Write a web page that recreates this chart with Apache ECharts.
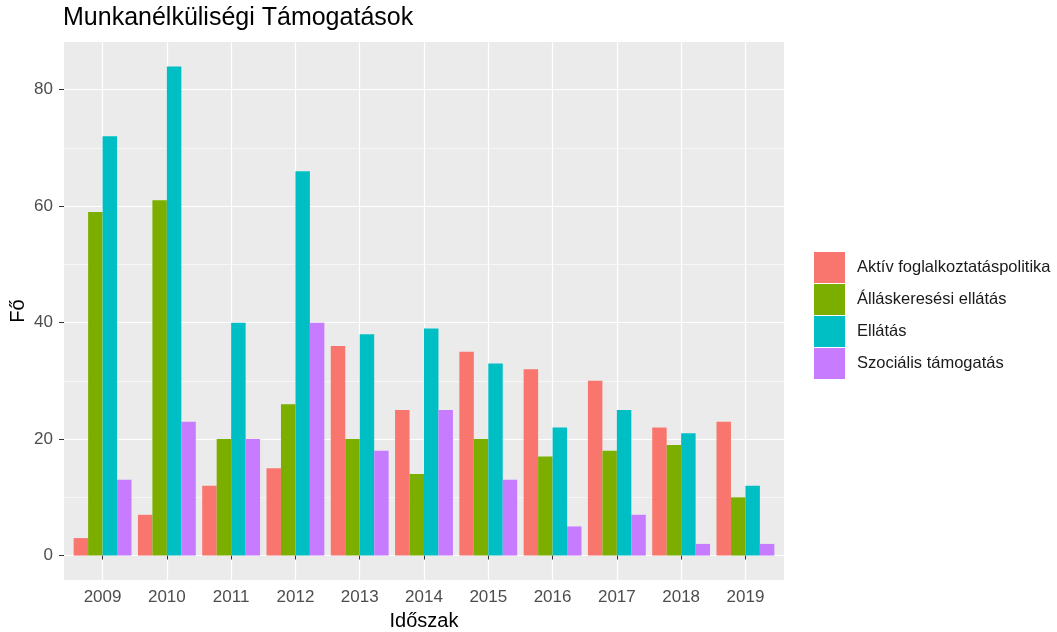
<!DOCTYPE html>
<html lang="hu">
<head>
    <meta charset="UTF-8">
    <title>Munkanélküliségi Támogatások</title>
    <script src="https://cdn.jsdelivr.net/npm/echarts@6/dist/echarts.min.js"></script>
    <style>
        html, body { margin: 0; padding: 0; background: #fff; }
        #main { width: 1057px; height: 632px; }
    </style>
</head>
<body>
<div id="main"></div>
<script>
    // évek
    var years = [2009, 2010, 2011, 2012, 2013, 2014, 2015, 2016, 2017, 2018, 2019];
    // kategóriák
    var categories = ['Aktív foglalkoztatáspolitika', 'Álláskeresési ellátás', 'Ellátás', 'Szociális támogatás'];
    var aktiv = [3, 7, 12, 15, 36, 25, 35, 32, 30, 22, 23];
    var allaskeresesi = [59, 61, 20, 26, 20, 14, 20, 17, 18, 19, 10];
    var ellatas = [72, 84, 40, 66, 38, 39, 33, 22, 25, 21, 12];
    var szocialis = [13, 23, 20, 40, 18, 25, 13, 5, 7, 2, 2];
    var yTicks = [0, 20, 40, 60, 80];
    var yMinor = [10, 30, 50, 70];

    var colors = ['#F8766D', '#7CAE00', '#00BFC4', '#C77CFF'];
    var values = [aktiv, allaskeresesi, ellatas, szocialis];

    var font = 'Liberation Sans, Arial, sans-serif';

    var series = categories.map(function (name, i) {
        return {
            name: name,
            type: 'bar',
            barGap: '0%',
            barCategoryGap: '10%',
            itemStyle: {color: colors[i]},
            data: years.map(function (y, j) {
                return [y, values[i][j]];
            })
        };
    });

    var myChart = echarts.init(document.getElementById('main'));
    var option = {
        animation: false,
        title: {
            text: 'Munkanélküliségi Támogatások',
            left: 58,
            top: 1,
            textStyle: {fontFamily: font, fontSize: 25, fontWeight: 'normal', color: '#000'}
        },
        legend: {
            orient: 'vertical',
            left: 814,
            top: 252,
            padding: 0,
            itemWidth: 31,
            itemHeight: 31,
            itemGap: 1,
            icon: 'rect',
            data: categories,
            textStyle: {fontFamily: font, fontSize: 16.5, color: '#1a1a1a', padding: [0, 0, 0, 7]}
        },
        grid: {
            left: 64,
            right: 273,
            top: 42,
            bottom: 52,
            outerBoundsMode: 'none',
            containLabel: false,
            show: true,
            backgroundColor: '#EBEBEB',
            borderWidth: 0
        },
        xAxis: {
            type: 'value',
            min: 2008.4,
            max: 2019.6,
            name: 'Időszak',
            nameLocation: 'middle',
            nameGap: 31,
            nameTextStyle: {fontFamily: font, fontSize: 20, color: '#000'},
            axisLine: {show: false},
            axisTick: {show: true, length: 4, customValues: years, lineStyle: {color: '#333'}},
            axisLabel: {
                customValues: years,
                margin: 9,
                fontFamily: font,
                fontSize: 17,
                color: '#4D4D4D',
                formatter: function (v) { return String(v); }
            },
            splitLine: {show: true, lineStyle: {color: '#fff', width: 1.2}}
        },
        yAxis: [{
            type: 'value',
            min: -4.2,
            max: 88.2,
            name: 'Fő',
            nameLocation: 'middle',
            nameGap: 36,
            nameMoveOverlap: false,
            nameRotate: 90,
            nameTextStyle: {fontFamily: font, fontSize: 20, color: '#000'},
            axisLine: {show: false},
            axisTick: {show: true, length: 5, customValues: yTicks, lineStyle: {color: '#333'}},
            axisLabel: {
                customValues: yTicks,
                margin: 11,
                fontFamily: font,
                fontSize: 17,
                color: '#4D4D4D'
            },
            splitLine: {show: true, lineStyle: {color: '#fff', width: 1.2}}
        }, {
            type: 'value',
            min: -4.2,
            max: 88.2,
            position: 'left',
            axisLine: {show: false},
            axisTick: {show: false, customValues: yMinor},
            axisLabel: {show: false, customValues: yMinor},
            splitLine: {show: true, lineStyle: {color: '#fff', width: 0.6}}
        }],
        series: series
    };
    myChart.setOption(option);
</script>
</body>
</html>
